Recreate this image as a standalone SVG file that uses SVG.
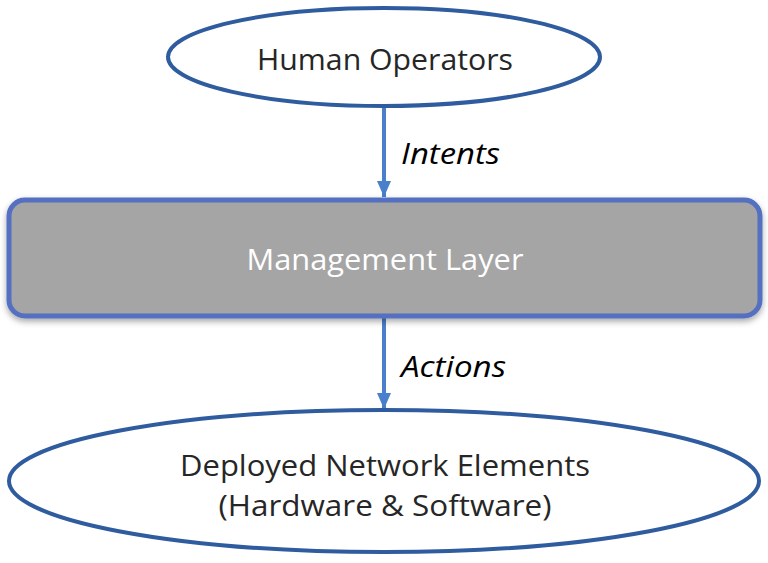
<svg xmlns="http://www.w3.org/2000/svg" width="768" height="563" viewBox="0 0 768 563">
<style>
text{font-family:"Open Sans","Noto Sans",sans-serif;font-size:29px;fill:#262626;text-anchor:middle}
.it{font-style:italic;fill:#000;text-anchor:start}
.ell{fill:#fff;stroke:#2F5C9E;stroke-width:4}
.conn{stroke:#4A7FCB;stroke-width:4;fill:none}
</style>
<defs>
<marker id="ah" markerUnits="userSpaceOnUse" markerWidth="16" markerHeight="14" refX="16" refY="7" orient="auto">
<path d="M0,0 L16,7 L0,14 Z" fill="#4A7FCB"/>
</marker>
<filter id="sh" x="-5%" y="-10%" width="110%" height="130%">
<feDropShadow dx="0" dy="3" stdDeviation="3" flood-color="#000" flood-opacity="0.35"/>
</filter>
</defs>
<g id="connectors">
<line class="conn" x1="384" y1="106" x2="384" y2="197" marker-end="url(#ah)"/>
<line class="conn" x1="384" y1="318" x2="384" y2="409" marker-end="url(#ah)"/>
<text class="it" x="401" y="164" textLength="99" lengthAdjust="spacingAndGlyphs">Intents</text>
<text class="it" x="401" y="377" textLength="105" lengthAdjust="spacingAndGlyphs">Actions</text>
</g>
<g id="human">
<ellipse class="ell" cx="384" cy="57" rx="216" ry="49"/>
<text x="385" y="70" textLength="256" lengthAdjust="spacingAndGlyphs">Human Operators</text>
</g>
<g id="mgmt">
<rect x="9" y="200" width="751" height="116" rx="16" fill="#A5A5A5" stroke="#5470C0" stroke-width="5" filter="url(#sh)"/>
<text x="385" y="270" fill="#fff" style="fill:#fff" textLength="277" lengthAdjust="spacingAndGlyphs">Management Layer</text>
</g>
<g id="deployed">
<ellipse class="ell" cx="384" cy="481" rx="375" ry="71"/>
<text x="385" y="476" textLength="410" lengthAdjust="spacingAndGlyphs">Deployed Network Elements</text>
<text x="385" y="516" textLength="333" lengthAdjust="spacingAndGlyphs">(Hardware &amp; Software)</text>
</g>
</svg>
